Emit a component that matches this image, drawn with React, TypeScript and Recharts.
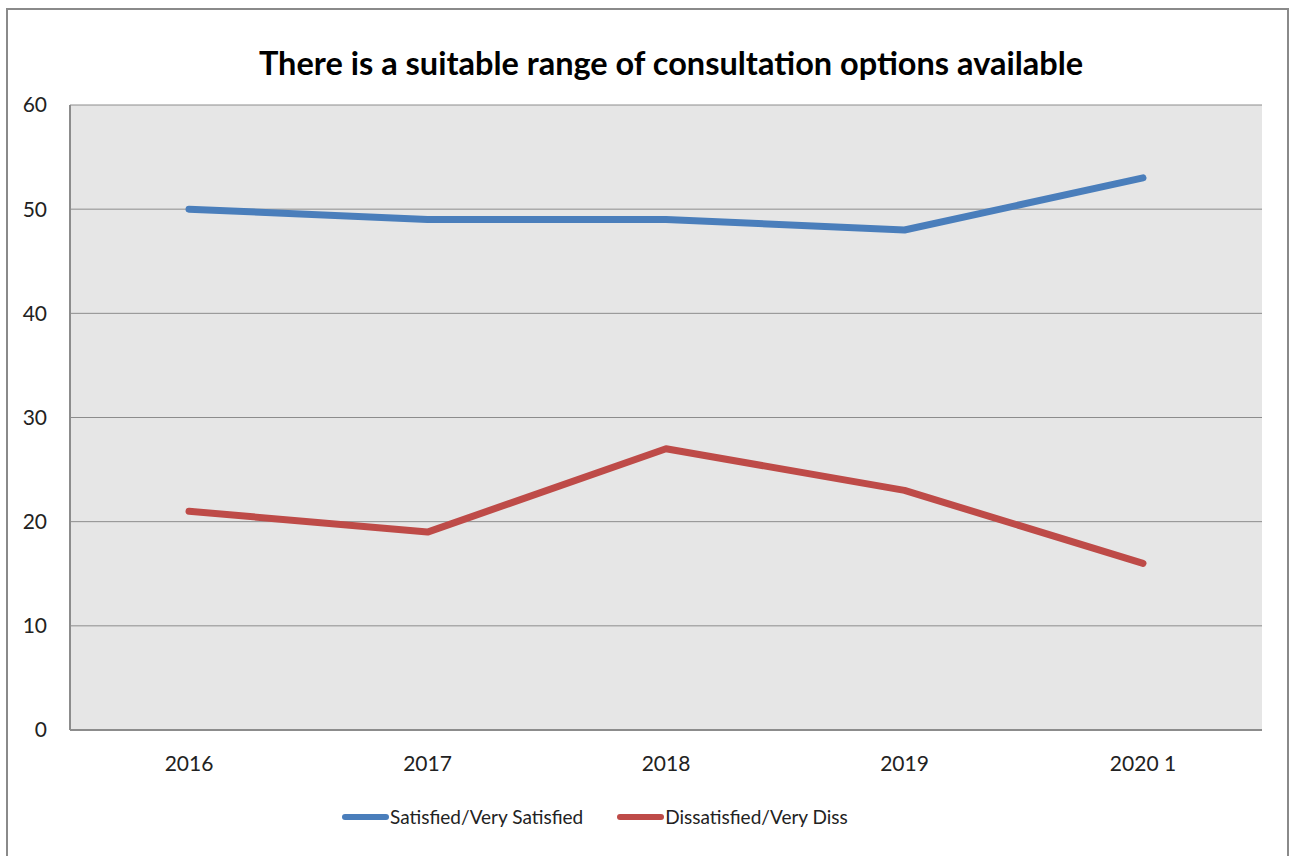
import { LineChart, Line, XAxis, YAxis, CartesianGrid } from "recharts"

const years = ["2016", "2017", "2018", "2019", "2020 1"]
const satisfied = [50, 49, 49, 48, 53]
const dissatisfied = [21, 19, 27, 23, 16]
const yTicks = [0, 10, 20, 30, 40, 50, 60]

const data = years.map((year, i) => ({
  year,
  satisfied: satisfied[i],
  dissatisfied: dissatisfied[i],
}))

const FONT = "Lato, 'Open Sans', sans-serif"

const series = [
  { key: "satisfied", name: "Satisfied/Very Satisfied", color: "#4a7ebb" },
  { key: "dissatisfied", name: "Dissatisfied/Very Diss", color: "#be4b48" },
]

// legend drawn in HTML so it doesn't eat into the plot area
function ChartLegend() {
  return (
    <div
      style={{
        position: "absolute",
        left: 341,
        top: 805,
        display: "flex",
        gap: 33,
        fontFamily: FONT,
        fontSize: 19,
        color: "#222",
      }}
    >
      {series.map((s) => (
        <div key={s.key} style={{ display: "flex", alignItems: "center" }}>
          <svg width={48} height={10} style={{ marginRight: 1 }}>
            <line x1={4} y1={5} x2={45} y2={5} stroke={s.color} strokeWidth={6} strokeLinecap="round" />
          </svg>
          <span>{s.name}</span>
        </div>
      ))}
    </div>
  )
}

export default function App() {
  return (
    <div style={{ position: "absolute", left: 0, top: 0, width: 1295, height: 856, background: "#fff", overflow: "hidden" }}>
      <div
        style={{
          position: "absolute",
          left: 6,
          top: 8,
          width: 1279,
          height: 860,
          border: "2px solid #8a8a8a",
        }}
      />
      <div
        style={{
          position: "absolute",
          left: 0,
          top: 43,
          width: 1342,
          textAlign: "center",
          fontFamily: FONT,
          fontWeight: 700,
          fontSize: 32.5,
          color: "#000",
        }}
      >
        There is a suitable range of consultation options available
      </div>
      <div style={{ position: "absolute", left: 0, top: 0 }}>
        <LineChart width={1295} height={856} data={data} margin={{ top: 105, right: 33, bottom: 96, left: 10 }}>
          <CartesianGrid vertical={false} fill="#e6e6e6" stroke="#8c8c8c" strokeWidth={1} />
          <XAxis
            dataKey="year"
            height={30}
            padding={{ left: 119, right: 119 }}
            tickLine={false}
            axisLine={{ stroke: "#8c8c8c", strokeWidth: 2 }}
            tickMargin={20}
            tick={{ fill: "#222", fontFamily: FONT, fontSize: 21 }}
          />
          <YAxis
            width={60}
            domain={[0, 60]}
            ticks={yTicks}
            interval={0}
            tickLine={false}
            axisLine={{ stroke: "#8c8c8c", strokeWidth: 2 }}
            tickMargin={17}
            tick={{ fill: "#222", fontFamily: FONT, fontSize: 21 }}
          />
          {series.map((s) => (
            <Line
              key={s.key}
              type="linear"
              dataKey={s.key}
              name={s.name}
              stroke={s.color}
              strokeWidth={7}
              strokeLinecap="round"
              strokeLinejoin="round"
              dot={false}
              activeDot={false}
              isAnimationActive={false}
            />
          ))}
        </LineChart>
      </div>
      <ChartLegend />
    </div>
  )
}
